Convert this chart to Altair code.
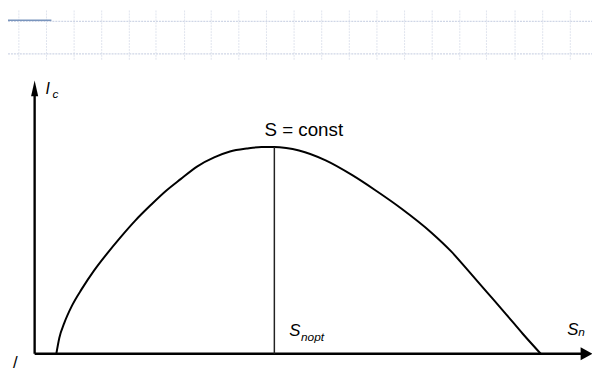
import altair as alt
import pandas as pd

# Curve I_c(S_n) at S = const, in drawing units (origin at the axes corner)
curve_x = [22, 25, 30, 38, 48, 60, 73, 87, 102, 118, 133, 148, 165, 182, 198, 215, 230, 243,
           255, 268, 295, 322, 345, 372, 402, 422, 438, 458, 478, 495, 513]
curve_y = [0, 16, 31, 49, 66, 84, 101, 118, 135, 151, 165, 177, 190, 199, 205, 208, 209.5, 209.5,
           208.5, 206, 196, 181, 166, 147, 123, 104, 86, 63, 40, 20, 0]

s_opt_x = 243
s_opt_top = 209.5

# light template grid at the top of the slide
grid_x = [-16, 12, 40, 68, 96, 123, 152, 179, 207, 235, 263, 291, 319, 347, 375, 403, 431, 458, 487, 515, 543]
grid_rows = [337, 304]

X_DOM = [-27, 565]
Y_DOM = [-15, 348]

xs = alt.Scale(domain=X_DOM, nice=False, zero=False)
ys = alt.Scale(domain=Y_DOM, nice=False, zero=False)
FONT = "Liberation Sans"


def segs(rows, **style):
    df = pd.DataFrame(rows, columns=["x", "y", "x2", "y2"])
    return alt.Chart(df).mark_rule(**style).encode(
        x=alt.X("x:Q", scale=xs, axis=None),
        y=alt.Y("y:Q", scale=ys, axis=None),
        x2="x2:Q",
        y2="y2:Q",
    )


gv = segs([[g, 298, g, 348] for g in grid_x], color="#dfe4ee", strokeWidth=1, strokeDash=[2, 1])
gh = segs([[X_DOM[0], r, X_DOM[1], r] for r in grid_rows], color="#cfd6e6", strokeWidth=1.2, strokeDash=[2, 1])
blue = segs([[X_DOM[0], 338, 17, 338]], color="#7a95bd", strokeWidth=1.5)
axes = segs([[0, 0, 0, 262], [0, 0, 555, 0]], color="black", strokeWidth=2.4)
vline = segs([[s_opt_x, 0, s_opt_x, s_opt_top]], color="#222222", strokeWidth=1.5)


def arrow(x, y, shape, size):
    return alt.Chart(pd.DataFrame({"x": [x], "y": [y]})).mark_point(
        shape=shape, filled=True, color="black", opacity=1, size=size
    ).encode(x=alt.X("x:Q", scale=xs, axis=None), y=alt.Y("y:Q", scale=ys, axis=None))


arrow_up = arrow(0, 269, "M0,-1L0.45,1L-0.45,1Z", 256)
arrow_right = arrow(559, 0, "M1,0L-0.85,-1L-0.85,1Z", 169)

line = alt.Chart(pd.DataFrame({"x": curve_x, "y": curve_y})).mark_line(
    color="black", strokeWidth=2, interpolate="monotone"
).encode(x=alt.X("x:Q", scale=xs, axis=None), y=alt.Y("y:Q", scale=ys, axis=None))

label_x = [233, 11, 18, 258, 270, 540, 551, -22]
label_y = [221, 263, 259, 18, 13, 19, 18, -14]
label_t = ["S = const", "I", "c", "S", "nopt", "S", "n", "/"]
label_size = [19, 16, 12, 17, 12, 17, 12, 17]
label_style = ["normal", "italic", "italic", "italic", "italic", "italic", "italic", "normal"]

texts = []
for x, y, t, s, st in zip(label_x, label_y, label_t, label_size, label_style):
    texts.append(
        alt.Chart(pd.DataFrame({"x": [x], "y": [y], "t": [t]})).mark_text(
            align="left", baseline="alphabetic", font=FONT,
            fontSize=s, fontStyle=st, color="black",
        ).encode(
            x=alt.X("x:Q", scale=xs, axis=None),
            y=alt.Y("y:Q", scale=ys, axis=None),
            text="t:N",
        )
    )

chart = alt.layer(gv, gh, blue, axes, arrow_up, arrow_right, line, vline, *texts).properties(
    width=592, height=363, padding=0, autosize=alt.AutoSizeParams(type="none"), background="white"
).configure_view(stroke=None)

chart.save("out.html", embed_options={"renderer": "svg", "actions": False})
